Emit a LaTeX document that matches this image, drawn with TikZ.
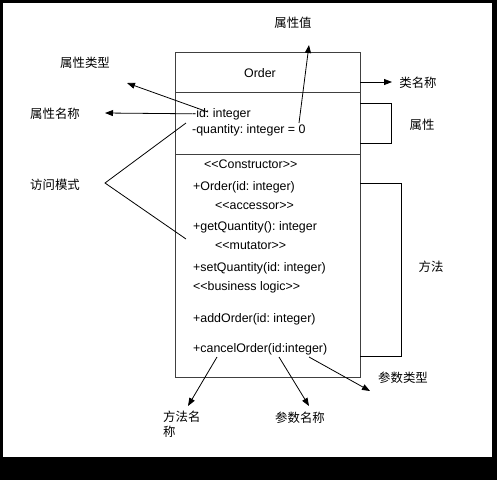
\documentclass[tikz,border=0pt]{standalone}
\usepackage{fontspec}
\setmainfont{Liberation Sans}
\newfontfamily\cjk{Noto Sans CJK SC}
\usetikzlibrary{arrows.meta}
\frenchspacing
\newcommand\lguil{<\kern0pt<}
\newcommand\rguil{>\kern0pt>}
\tikzset{
  >={Triangle[length=8pt,width=6pt]},
  member/.style={anchor=base west, inner sep=0pt, font=\fontsize{12.4}{14}\selectfont},
  note/.style={inner sep=0pt, font=\cjk\fontsize{12.4}{15}\selectfont},
  box/.style={draw=black!75, line width=0.9pt},
  lead/.style={draw=black, line width=0.8pt},
}
\begin{document}
\begin{tikzpicture}[x=1pt, y=-1pt]
  % frame
  \fill[black] (0,0) rectangle (497,480);
  \fill[white] (3,3) rectangle (492,457);

  % class box
  \node[box, anchor=north west, inner sep=0pt, minimum width=185pt, minimum height=325pt] (cls) at (175,52) {};
  \draw[box] (cls.west |- 0,92) -- (cls.east |- 0,92);
  \draw[box] (cls.west |- 0,154) -- (cls.east |- 0,154);

  \node[member, anchor=base] (clsname) at (260,77) {Order};
  \node[member] (attrid) at (192,117) {-id: integer};
  \node[member] (attrqty) at (192,133) {-quantity: integer = 0};

  \node[member] (stcons) at (204,168) {\lguil Constructor\rguil};
  \node[member] (opctor) at (193,190) {+Order(id: integer)};
  \node[member] (stacc) at (215,209) {\lguil accessor\rguil};
  \node[member] (opget) at (193,230) {+getQuantity(): integer};
  \node[member] (stmut) at (215,249) {\lguil mutator\rguil};
  \node[member] (opset) at (193,271) {+setQuantity(id: integer)};
  \node[member] (stbiz) at (193,290) {\lguil business logic\rguil};
  \node[member] (opadd) at (193,322) {+addOrder(id: integer)};
  \node[member] (opcancel) at (193,352) {+cancelOrder(id:integer)};

  % labels
  \node[note] (lblval) at (293,23) {属性值};
  \node[note] (lbltype) at (85,63) {属性类型};
  \node[note] (lblclass) at (418,83) {类名称};
  \node[note] (lblname) at (55,114) {属性名称};
  \node[note] (lblattr) at (422,125) {属性};
  \node[note] (lblaccess) at (55,185) {访问模式};
  \node[note] (lblmeth) at (431,267) {方法};
  \node[note] (lblptype) at (403,378) {参数类型};
  \node[note] (lblpname) at (300,418) {参数名称};
  \node[note, anchor=north west, align=left] (lblmname) at (163,411) {方法名\\称};

  % connector ends
  \coordinate (valpt) at (299,123);
  \coordinate (valtip) at (309,45);
  \coordinate (typept) at (208,112);
  \coordinate (typetip) at (127,83);
  \coordinate (nametip) at (105,113);
  \coordinate (accA) at (186,123);
  \coordinate (accV) at (105,183);
  \coordinate (accB) at (186,239);
  \coordinate (clspt) at (360,82);
  \coordinate (clstip) at (392,82);
  \coordinate (attrtop) at (360,103);
  \coordinate (attrbot) at (360,143);
  \coordinate (metop) at (360,183);
  \coordinate (mebot) at (360,356);
  \coordinate (mnpt) at (217,357);
  \coordinate (mntip) at (188,406);
  \coordinate (pnpt) at (279,357);
  \coordinate (pntip) at (309,406);
  \coordinate (ptpt) at (309,357);
  \coordinate (pttip) at (370,391);

  \draw[lead,->] (valpt) -- (valtip);
  \draw[lead,->] (typept) -- (typetip);
  \draw[lead,->] (attrid.west) -- (nametip);
  \draw[lead] (accA) -- (accV) -- (accB);
  \draw[lead,->] (clspt) -- (clstip);
  \draw[lead] (attrtop) -- ++(31,0) |- (attrbot);
  \draw[lead] (metop) -- ++(41,0) |- (mebot);
  \draw[lead,->] (mnpt) -- (mntip);
  \draw[lead,->] (pnpt) -- (pntip);
  \draw[lead,->] (ptpt) -- (pttip);
\end{tikzpicture}
\end{document}
